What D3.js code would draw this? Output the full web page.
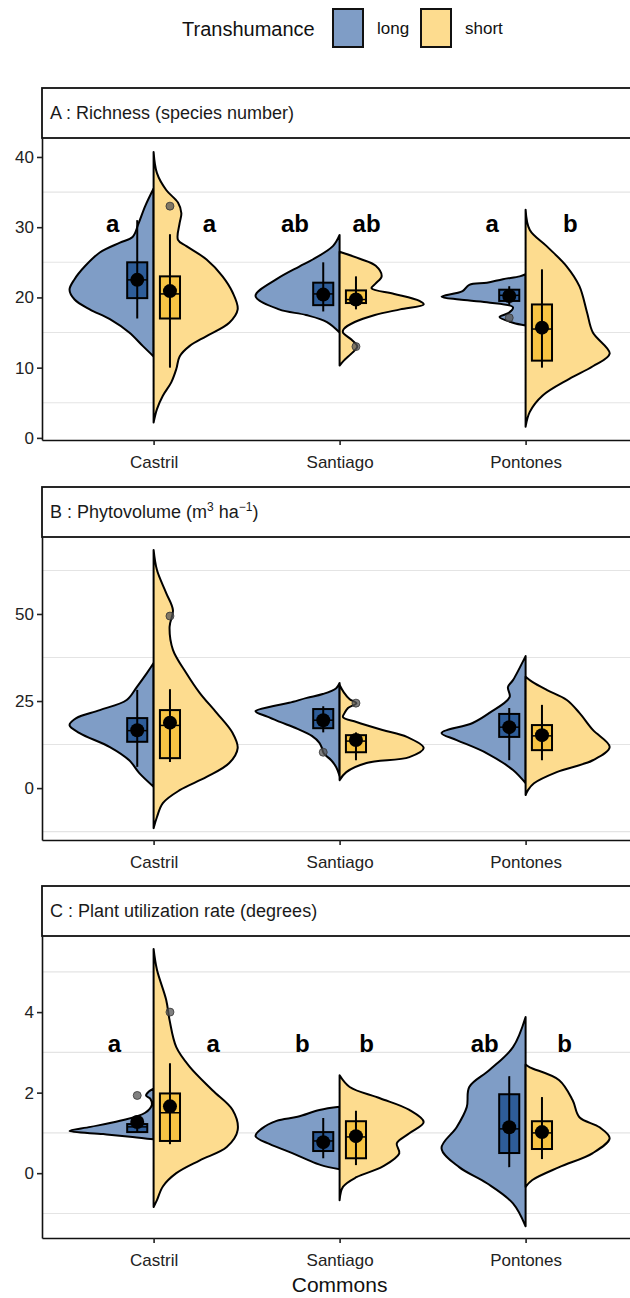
<!DOCTYPE html>
<html>
<head>
<meta charset="utf-8">
<script src="https://cdn.jsdelivr.net/npm/d3@7"></script>
<style>
  body { margin: 0; background: #fff; }
  text { font-family: "Liberation Sans", Arial, sans-serif; }
</style>
</head>
<body>
<div id="chart"></div>
<script>
// Categories
var communes = ["Castril", "Santiago", "Pontones"];
var groups = ["long", "short"];

// Half-violin outlines: [value, relative half width]
// A: Richness
var richCastrilLong  = [[35.5,0],[33,0.1],[30.5,0.18],[28.6,0.25],[27.8,0.4],[26.4,0.64],[24.4,0.82],[22.6,0.94],[21.1,1],[19.7,0.94],[18.3,0.76],[16.9,0.52],[15,0.29],[13.1,0.13],[11.6,0]];
var richCastrilShort = [[40.7,0],[37.7,0.04],[35.3,0.15],[33.5,0.29],[32,0.33],[30.6,0.31],[28.2,0.29],[27.3,0.39],[25.4,0.63],[23,0.82],[20.7,0.94],[18.3,1],[16.4,0.9],[14.5,0.63],[13.1,0.43],[11.6,0.31],[9.8,0.27],[7.9,0.21],[6,0.11],[4.1,0.04],[2.2,0]];
var richSantiagoLong  = [[28.9,0],[27.3,0.08],[25.4,0.32],[24.4,0.48],[22.6,0.75],[20.2,1],[18.3,0.72],[17.5,0.4],[16.5,0.15],[15,0]];
var richSantiagoShort = [[26.5,0],[25.5,0.24],[24.5,0.43],[23,0.5],[22,0.43],[21.3,0.38],[20.5,0.65],[19.5,0.95],[19,1],[18.3,0.72],[17.5,0.42],[16.5,0.18],[15.5,0.05],[15,0.04],[14,0.14],[13,0.21],[12,0.14],[11,0.05],[10.3,0]];
var richPontonesLong  = [[23.3,0],[23,0.07],[22.6,0.27],[22.1,0.46],[21.8,0.67],[20.9,0.75],[20.1,1],[19.7,0.79],[19.3,0.46],[18.6,0.15],[17.8,0.2],[17.2,0.31],[16.4,0.15],[16,0]];
var richPontonesShort = [[32.5,0],[29.6,0.05],[27.3,0.25],[24.4,0.49],[21.6,0.64],[17.9,0.73],[15,0.8],[12,1],[10.2,0.8],[8.4,0.52],[6,0.2],[3.7,0.05],[1.6,0]];

// B: Phytovolume
var phytoCastrilLong  = [[35.9,0],[33,0.08],[29,0.2],[25.3,0.32],[22.4,0.64],[20.1,0.92],[18.1,1],[15.8,0.88],[11.8,0.52],[8,0.29],[4.3,0.17],[0.4,0]];
var phytoCastrilShort = [[68.4,0],[62.6,0.04],[56,0.15],[51.1,0.23],[46.3,0.19],[39.7,0.23],[33,0.39],[27.3,0.55],[21.6,0.75],[15.8,0.94],[11.5,1],[7.2,0.9],[3.2,0.63],[-0.6,0.31],[-4.3,0.11],[-8.3,0.04],[-11.5,0]];
var phytoSantiagoLong  = [[30.2,0],[28.7,0.04],[27,0.2],[25.9,0.39],[24.5,0.6],[23.5,0.8],[22.1,1],[20.5,0.86],[19,0.71],[17,0.5],[15,0.33],[13,0.24],[11.5,0.21],[10,0.19],[8,0.1],[6,0.04],[3.5,0]];
var phytoSantiagoShort = [[29.6,0],[27.5,0.05],[25.5,0.12],[24.4,0.2],[23,0.1],[21.6,0.06],[20.4,0.04],[19,0.2],[16.7,0.51],[14.7,0.8],[11.5,1],[8.9,0.83],[7.2,0.32],[4.6,0.08],[2.3,0]];
var phytoPontonesLong  = [[37.9,0],[31,0.15],[29,0.21],[26.1,0.19],[21.6,0.43],[18.7,0.63],[15.8,1],[13.8,0.82],[10,0.46],[5.2,0.15],[1.4,0]];
var phytoPontonesShort = [[32,0],[30.5,0.08],[28.2,0.25],[25.3,0.49],[21.6,0.64],[16.7,0.8],[11.8,1],[8,0.8],[4.6,0.37],[1.4,0.1],[-0.5,0.03],[-2,0]];

// C: Plant utilization rate
var utilCastrilLong  = [[2.1,0],[2.02,0.06],[1.93,0.09],[1.85,0.04],[1.7,0.02],[1.5,0.1],[1.3,0.4],[1.15,0.75],[1.05,1],[0.97,0.6],[0.9,0.25],[0.84,0]];
var utilCastrilShort = [[5.57,0],[5.05,0.04],[4.3,0.15],[3.8,0.19],[3.13,0.27],[2.64,0.43],[2.06,0.7],[1.57,0.94],[1.07,1],[0.65,0.87],[0.32,0.55],[0,0.27],[-0.33,0.11],[-0.67,0.04],[-0.84,0]];
var utilSantiagoLong  = [[1.65,0],[1.57,0.24],[1.4,0.5],[1.3,0.75],[1.1,0.93],[0.92,1],[0.72,0.83],[0.53,0.6],[0.35,0.4],[0.2,0.22],[0.1,0]];
var utilSantiagoShort = [[2.43,0],[2.14,0.12],[1.86,0.48],[1.57,0.83],[1.27,1],[0.99,0.83],[0.74,0.68],[0.49,0.71],[0.16,0.51],[-0.1,0.2],[-0.34,0.04],[-0.67,0]];
var utilPontonesLong  = [[3.88,0],[3.13,0.15],[2.56,0.43],[2.14,0.67],[1.64,0.7],[1.14,0.82],[0.62,1],[0.15,0.79],[-0.25,0.46],[-0.75,0.15],[-1.32,0]];
var utilPontonesShort = [[2.7,0],[2.63,0.05],[2.31,0.4],[1.81,0.56],[1.39,0.64],[1.14,0.88],[0.87,1],[0.5,0.8],[0.15,0.4],[-0.17,0.08],[-0.34,0]];

// Box stats: [commune, group, lower whisker, q1, median, q3, upper whisker, mean]
var richBoxes = [
  ["Castril","long",17,19.9,22.5,25,31,22.5], ["Castril","short",10,17,20.5,23,29,20.9],
  ["Santiago","long",18,18.9,20.5,22.1,25,20.4], ["Santiago","short",18.3,19.2,19.7,21,23,19.7],
  ["Pontones","long",18.9,19.5,20.3,21.1,21.6,20.2], ["Pontones","short",10,11,15.5,19,24,15.7]
];
var phytoBoxes = [
  ["Castril","long",6.1,13.3,16.5,20.1,28.2,16.6], ["Castril","short",7.5,8.6,18,22.4,28.4,18.8],
  ["Santiago","long",16,17.2,19.5,22.7,23.5,19.5], ["Santiago","short",8,10.3,13.5,15.2,16,13.8],
  ["Pontones","long",8,14.7,17.5,21.3,23,17.5], ["Pontones","short",8,10.9,15,18.1,23.9,15.2]
];
var utilBoxes = [
  ["Castril","long",1,1.02,1.15,1.22,1.35,1.27], ["Castril","short",0.72,0.8,1.5,1.98,2.73,1.66],
  ["Santiago","long",0.37,0.55,0.8,1.02,1.37,0.77], ["Santiago","short",0.2,0.37,0.9,1.29,1.55,0.92],
  ["Pontones","long",0.15,0.5,1.1,1.96,2.41,1.14], ["Pontones","short",0.35,0.6,1,1.29,1.89,1.02]
];

// Outliers: [commune, group, value]
var richOutliers = [["Castril","short",33], ["Santiago","short",13], ["Pontones","long",17.1]];
var phytoOutliers = [["Castril","short",49.4], ["Santiago","long",10.3], ["Santiago","short",24.4]];
var utilOutliers = [["Castril","long",1.93], ["Castril","short",4.0]];

// Significance letters: [commune, group, label]
var richLetters = [["Castril","long","a"],["Castril","short","a"],["Santiago","long","ab"],["Santiago","short","ab"],["Pontones","long","a"],["Pontones","short","b"]];
var utilLetters = [["Castril","long","a"],["Castril","short","a"],["Santiago","long","b"],["Santiago","short","b"],["Pontones","long","ab"],["Pontones","short","b"]];

// Axis ticks
var richTicks = [0, 10, 20, 30, 40];
var phytoTicks = [0, 25, 50];
var utilTicks = [0, 2, 4];

function shapes(a, b, c, d, e, f) {
  return [["Castril","long",a],["Castril","short",b],["Santiago","long",c],["Santiago","short",d],["Pontones","long",e],["Pontones","short",f]];
}

// Layout of the three facets
var panels = [
  {title: ["A :  Richness (species number)"], top: 138, bottom: 440, domain: [-0.3, 42.7],
   ticks: richTicks, minor: [5, 15, 25, 35],
   shapes: shapes(richCastrilLong, richCastrilShort, richSantiagoLong, richSantiagoShort, richPontonesLong, richPontonesShort),
   boxes: richBoxes, outliers: richOutliers, letters: richLetters, letterY: 30.6,
   nudge: [-0.22, 0.30, -0.24, 0.145, -0.18, 0.24]},
  {title: null, top: 537, bottom: 840, domain: [-14.9, 72.1],
   ticks: phytoTicks, minor: [-12.5, 12.5, 37.5, 62.5],
   shapes: shapes(phytoCastrilLong, phytoCastrilShort, phytoSantiagoLong, phytoSantiagoShort, phytoPontonesLong, phytoPontonesShort),
   boxes: phytoBoxes, outliers: phytoOutliers, letters: [], letterY: 0, nudge: []},
  {title: ["C :  Plant utilization rate (degrees)"], top: 936, bottom: 1238, domain: [-1.61, 5.89],
   ticks: utilTicks, minor: [-1, 1, 3, 5],
   shapes: shapes(utilCastrilLong, utilCastrilShort, utilSantiagoLong, utilSantiagoShort, utilPontonesLong, utilPontonesShort),
   boxes: utilBoxes, outliers: utilOutliers, letters: utilLetters, letterY: 3.23,
   nudge: [-0.21, 0.32, -0.20, 0.145, -0.22, 0.21]}
];

var violinFill = {long: "#7f9dc6", short: "#fddc8f"};
var boxFill = {long: "#2e5d99", short: "#f7c444"};

var W = 630, H = 1298;
var left = 42, right = 637.2;

var svg = d3.select("#chart").append("svg")
    .attr("width", W)
    .attr("height", H);

var x = d3.scalePoint()
    .domain(communes)
    .range([left, right])
    .padding(0.6);

var halfW = x.step() * 0.452,
    boxOff = x.step() * 0.088,
    boxW = x.step() * 0.108;

function gx(site, group) {
  return x(site) + (group == "long" ? -boxOff : boxOff);
}

panels.forEach(function(p, pi) {
  var y = d3.scaleLinear().domain(p.domain).range([p.bottom, p.top]);
  var g = svg.append("g");

  // minor grid
  g.selectAll(".grid").data(p.minor).enter().append("line")
    .attr("x1", left).attr("x2", right)
    .attr("y1", function(d) { return y(d); })
    .attr("y2", function(d) { return y(d); })
    .attr("stroke", "#e4e4e4")
    .attr("stroke-width", 1.1);

  // strip
  g.append("rect")
    .attr("x", left).attr("y", p.top - 50)
    .attr("width", right - left).attr("height", 50)
    .attr("fill", "#fff").attr("stroke", "#111").attr("stroke-width", 1.8);

  var st = g.append("text")
    .attr("x", 50).attr("y", p.top - 25)
    .attr("dy", "0.36em")
    .style("font-size", "18px")
    .attr("fill", "#1a1a1a");
  if (p.title) {
    st.text(p.title[0]);
  } else {
    st.append("tspan").text("B :  Phytovolume (m");
    st.append("tspan").attr("dy", -7).style("font-size", "12px").text("3");
    st.append("tspan").attr("dy", 7).text(" ha");
    st.append("tspan").attr("dy", -7).style("font-size", "12px").text("\u22121");
    st.append("tspan").attr("dy", 7).text(")");
  }

  // half violins
  p.shapes.forEach(function(s) {
    var cx = x(s[0]), sign = s[1] == "long" ? -1 : 1;
    var area = d3.area()
        .curve(d3.curveCatmullRom.alpha(0.5))
        .y(function(d) { return y(d[0]); })
        .x0(cx)
        .x1(function(d) { return cx + sign * halfW * d[1]; });
    g.append("path")
      .datum(s[2])
      .attr("d", area)
      .attr("fill", violinFill[s[1]])
      .attr("stroke", "#000")
      .attr("stroke-width", 2)
      .attr("stroke-linejoin", "round");
  });

  // boxes
  g.selectAll(".box").data(p.boxes).enter().append("rect")
    .attr("x", function(d) { return gx(d[0], d[1]) - boxW / 2; })
    .attr("y", function(d) { return y(d[5]); })
    .attr("width", boxW)
    .attr("height", function(d) { return y(d[3]) - y(d[5]); })
    .attr("fill", function(d) { return boxFill[d[1]]; })
    .attr("stroke", "#000")
    .attr("stroke-width", 2);

  g.selectAll(".median").data(p.boxes).enter().append("line")
    .attr("x1", function(d) { return gx(d[0], d[1]) - boxW / 2; })
    .attr("x2", function(d) { return gx(d[0], d[1]) + boxW / 2; })
    .attr("y1", function(d) { return y(d[4]); })
    .attr("y2", function(d) { return y(d[4]); })
    .attr("stroke", "#000").attr("stroke-width", 1.5);

  g.selectAll(".whisker").data(p.boxes).enter().append("line")
    .attr("x1", function(d) { return gx(d[0], d[1]); })
    .attr("x2", function(d) { return gx(d[0], d[1]); })
    .attr("y1", function(d) { return y(d[2]); })
    .attr("y2", function(d) { return y(d[6]); })
    .attr("stroke", "#000").attr("stroke-width", 2);

  // outliers
  g.selectAll(".out").data(p.outliers).enter().append("circle")
    .attr("cx", function(d) { return gx(d[0], d[1]); })
    .attr("cy", function(d) { return y(d[2]); })
    .attr("r", 4)
    .attr("fill", "#555")
    .attr("fill-opacity", 0.75)
    .attr("stroke", "#333").attr("stroke-width", 0.8);

  // means
  g.selectAll(".mean").data(p.boxes).enter().append("circle")
    .attr("cx", function(d) { return gx(d[0], d[1]); })
    .attr("cy", function(d) { return y(d[7]); })
    .attr("r", 7)
    .attr("fill", "#000");

  // letters
  g.selectAll(".letter").data(p.letters).enter().append("text")
    .attr("x", function(d, i) { return x(d[0]) + p.nudge[i] * x.step(); })
    .attr("y", y(p.letterY))
    .attr("dy", "0.36em")
    .attr("text-anchor", "middle")
    .style("font-size", "24px")
    .style("font-weight", "bold")
    .text(function(d) { return d[2]; });

  // axes
  var ya = g.append("g")
    .attr("transform", "translate(" + left + ",0)")
    .call(d3.axisLeft(y).tickValues(p.ticks).tickSize(5).tickSizeOuter(0).tickPadding(3));
  var xa = g.append("g")
    .attr("transform", "translate(0," + p.bottom + ")")
    .call(d3.axisBottom(x).tickSize(5).tickSizeOuter(0).tickPadding(11));
  [ya, xa].forEach(function(a) {
    a.select(".domain").attr("stroke", "#111").attr("stroke-width", 1.6);
    a.selectAll(".tick line").attr("stroke", "#222").attr("stroke-width", 1.6);
    a.selectAll(".tick text")
      .attr("fill", "#222")
      .style("font-size", "17px")
      .style("font-family", "'Liberation Sans', Arial, sans-serif");
  });
});

// x axis title
svg.append("text")
  .attr("x", (left + right) / 2)
  .attr("y", 1284)
  .attr("dy", "0.36em")
  .attr("text-anchor", "middle")
  .style("font-size", "21px")
  .attr("fill", "#111")
  .text("Commons");

// legend
var legend = svg.append("g");
legend.append("text")
  .attr("x", 182).attr("y", 29)
  .attr("dy", "0.36em")
  .style("font-size", "20px")
  .attr("fill", "#111")
  .text("Transhumance");

var keyX = [333, 421], labX = [377, 465];
groups.forEach(function(gr, i) {
  legend.append("rect")
    .attr("x", keyX[i]).attr("y", 9)
    .attr("width", 30).attr("height", 38)
    .attr("fill", violinFill[gr])
    .attr("stroke", "#111").attr("stroke-width", 2);
  legend.append("text")
    .attr("x", labX[i]).attr("y", 28)
    .attr("dy", "0.36em")
    .style("font-size", "17px")
    .attr("fill", "#111")
    .text(gr);
});
</script>
</body>
</html>
